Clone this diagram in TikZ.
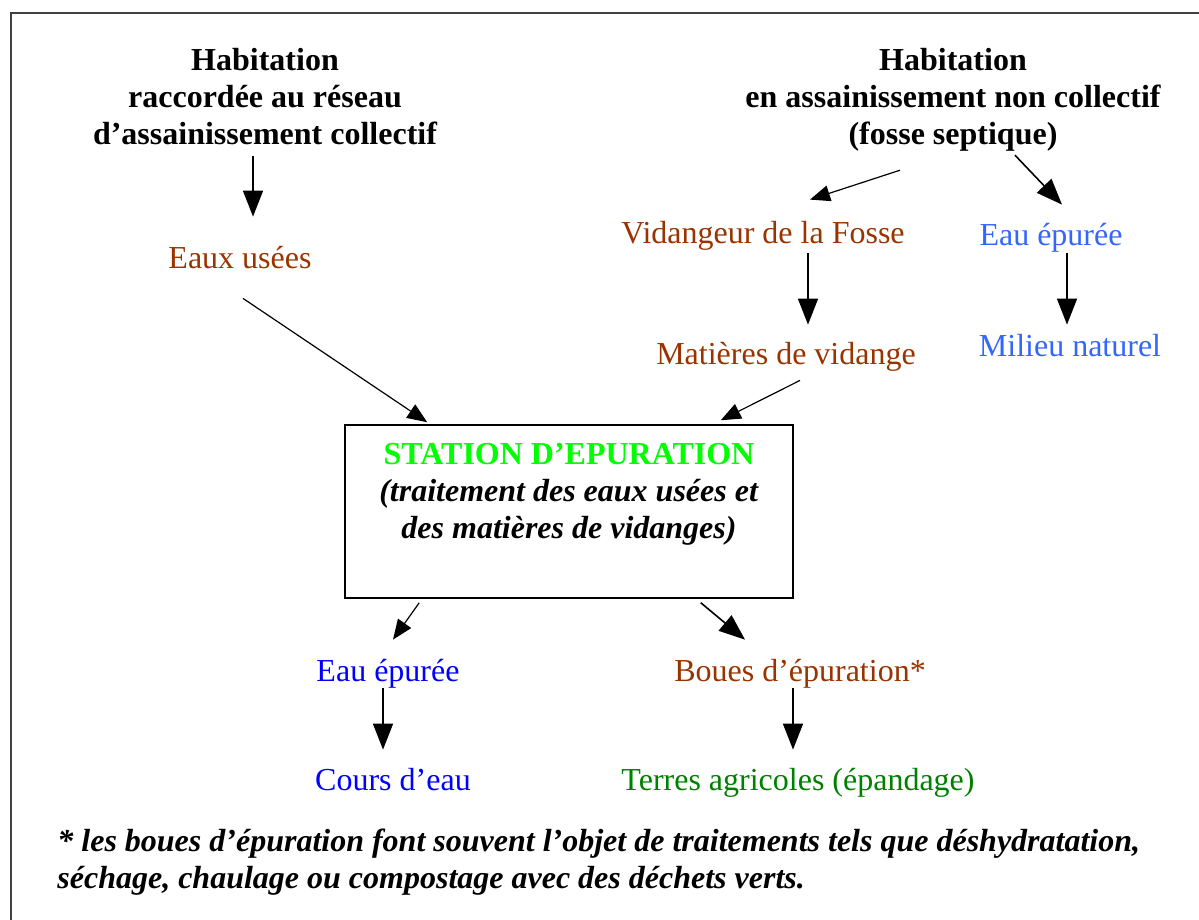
\documentclass[tikz,border=0pt]{standalone}
\usepackage{fontspec}
\setmainfont{Liberation Serif}
\usetikzlibrary{arrows.meta}
\definecolor{brun}{HTML}{993300}
\definecolor{bleuclair}{HTML}{3366FF}
\definecolor{bleu}{HTML}{0000FF}
\definecolor{vert}{HTML}{008000}
\definecolor{vertvif}{HTML}{00FF00}
\definecolor{cadre}{HTML}{404040}
\begin{document}
\fontsize{16}{18.5}\selectfont
\begin{tikzpicture}[x=.5pt,y=-.5pt,
  lbl/.style={inner sep=0,anchor=base,text height=11pt,text depth=4pt},
  head/.style={inner sep=0,anchor=base,align=center,font=\bfseries},
  arr/.style={line width=.8pt,-{Triangle[width=10pt,length=13pt]}},
  arrs/.style={line width=.6pt,-{Triangle[width=8pt,length=10pt]}}]
\useasboundingbox (0,0) rectangle (1199,920);
\draw [cadre,line width=1pt] (11,920) -- (11,13) -- (1199,13);
% les deux habitations
\node [head] (habA) at (265,145) {Habitation\\raccordée au réseau\\d’assainissement collectif};
\node [head] (habB) at (953,145) {Habitation\\en assainissement non collectif\\(fosse septique)};
% etiquettes
\node [lbl,brun] (eaux) at (240,268) {Eaux usées};
\node [lbl,brun] (vid) at (763,243) {Vidangeur de la Fosse};
\node [lbl,bleuclair] (eauR) at (1051,245) {Eau épurée};
\node [lbl,brun] (mat) at (786,364) {Matières de vidange};
\node [lbl,bleuclair] (milieu) at (1070,356) {Milieu naturel};
\node [lbl,bleu] (eauB) at (388,681) {Eau épurée};
\node [lbl,brun] (boues) at (800,681) {Boues d’épuration*};
\node [lbl,bleu] (cours) at (393,790) {Cours d’eau};
\node [lbl,vert] (terres) at (798,790) {Terres agricoles (épandage)};
% la station
\node [draw,line width=.75pt,inner sep=0,minimum width=224pt,minimum height=86.5pt] (station) at (569,511.5) {};
\node [head] (stxt) at (569,538) {\textcolor{vertvif}{STATION D’EPURATION}\\\textit{(traitement des eaux usées et}\\\textit{des matières de vidanges)}};
% fleches
\draw [arr] ([shift={(-12,10)}]habA.south) -- ([shift={(13,-29)}]eaux.north);
\draw [arrs] ([shift={(3,22)}]eaux.south) -- ([shift={(83,-2)}]station.north west);
\draw [arrs] ([shift={(-53,18)}]habB.south) -- ([shift={(47,-21)}]vid.north);
\draw [arr] ([shift={(62,3)}]habB.south) -- ([shift={(11,-18)}]eauR.north);
\draw [arr] ([shift={(45,2)}]vid.south) -- ([shift={(22,-17)}]mat.north);
\draw [arr] ([shift={(16,0)}]eauR.south) -- ([shift={(-3,-9)}]milieu.north);
\draw [arrs] ([shift={(14,8)}]mat.south) -- ([shift={(-73,-4)}]station.north east);
\draw [arrs] ([shift={(75,4)}]station.south west) -- ([shift={(5,-19)}]eauB.north);
\draw [arr] ([shift={(-93,4)}]station.south east) -- ([shift={(-55,-19)}]boues.north);
\draw [arr] ([shift={(-5,-1)}]eauB.south) -- ([shift={(-10,-18)}]cours.north);
\draw [arr] ([shift={(-7,-1)}]boues.south) -- ([shift={(-5,-18)}]terres.north);
% note
\node [inner sep=0,anchor=base west,align=left,font=\bfseries\itshape] (note) at (57,888) {* les boues d’épuration font souvent l’objet de traitements tels que déshydratation,\\séchage, chaulage ou compostage avec des déchets verts.};
\end{tikzpicture}
\end{document}
